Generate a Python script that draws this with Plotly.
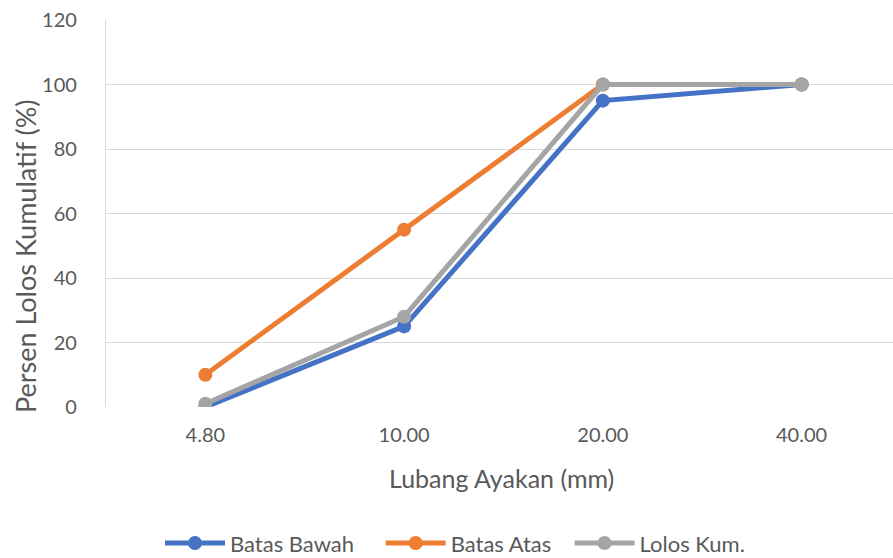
import plotly.graph_objects as go

categories = ["4.80", "10.00", "20.00", "40.00"]
batas_bawah = [0, 25, 95, 100]
batas_atas = [10, 55, 100, 100]
lolos_kum = [1, 28, 100, 100]

font_family = "Lato, 'Open Sans', sans-serif"
text_color = "#595959"

fig = go.Figure()
series = [
    ("Batas Bawah", batas_bawah, "#4472C4", "legend", 0.0686),
    ("Batas Atas", batas_atas, "#ED7D31", "legend2", 0.349),
    ("Lolos Kum.", lolos_kum, "#A5A5A5", "legend3", 0.589),
]
legend_layout = {}
for name, vals, color, lg, lx in series:
    fig.add_trace(go.Scatter(
        x=list(range(len(categories))), y=vals, name=name,
        mode="lines+markers",
        line=dict(color=color, width=5),
        marker=dict(color=color, size=14),
        legend=lg,
    ))
    legend_layout[lg] = dict(
        orientation="h", x=lx, xanchor="left", y=-0.352, yanchor="middle",
        font=dict(size=22, color=text_color), itemwidth=60,
        bgcolor="rgba(0,0,0,0)", tracegroupgap=0,
    )

fig.update_layout(
    width=893, height=558,
    margin=dict(l=106, r=0, t=20, b=151, autoexpand=False),
    plot_bgcolor="white", paper_bgcolor="white",
    font=dict(family=font_family, color=text_color, size=20),
    showlegend=True,
    xaxis=dict(
        tickmode="array", tickvals=list(range(len(categories))), ticktext=categories,
        range=[-0.5, 3.46], showgrid=False, zeroline=False, showline=False,
        ticks="", ticklabelstandoff=14, automargin=False,
        tickfont=dict(size=20),
    ),
    yaxis=dict(
        range=[0, 120], dtick=20, showgrid=True, gridcolor="#D9D9D9", gridwidth=1.3,
        zeroline=False, showline=True, linecolor="#D9D9D9", linewidth=1.3,
        ticks="", ticklabelstandoff=24, automargin=False,
        tickfont=dict(size=20),
    ),
    annotations=[
        dict(text="Persen Lolos Kumulatif (%)", xref="paper", yref="paper",
             x=-0.103, y=0.39, xanchor="center", yanchor="middle", textangle=-90,
             showarrow=False, font=dict(size=27, color=text_color)),
        dict(text="Lubang Ayakan (mm)", xref="paper", yref="paper",
             x=0.503, y=-0.183, xanchor="center", yanchor="middle",
             showarrow=False, font=dict(size=25, color=text_color)),
    ],
    **legend_layout,
)

fig.write_html("out.html", config={"displayModeBar": False},
               post_script="document.body.style.margin='0';")
